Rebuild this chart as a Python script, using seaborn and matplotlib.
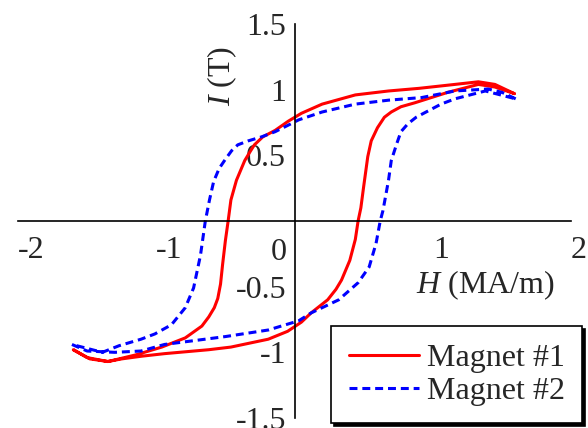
import matplotlib
matplotlib.use("Agg")
import matplotlib.pyplot as plt
import seaborn as sns
import pandas as pd

# Magnet #1: descending branch then ascending branch (H in MA/m, I in T)
h1_down = [1.59, 1.45, 1.33, 1.16, 0.90, 0.68, 0.44, 0.20, 0.05, -0.045, -0.14, -0.23,
           -0.29, -0.32, -0.36, -0.42, -0.46, -0.48, -0.50, -0.52, -0.535, -0.555, -0.58,
           -0.62, -0.67, -0.79, -0.96, -1.15, -1.35, -1.50, -1.60]
i1_down = [0.97, 1.04, 1.06, 1.04, 1.01, 0.99, 0.96, 0.89, 0.82, 0.76, 0.69, 0.64,
           0.58, 0.53, 0.46, 0.31, 0.16, 0.0, -0.15, -0.33, -0.48, -0.59, -0.66,
           -0.73, -0.80, -0.89, -0.96, -1.02, -1.07, -1.04, -0.98]
h1_up = [-1.48, -1.35, -1.25, -1.11, -0.94, -0.62, -0.46, -0.19, -0.05, 0.05, 0.12, 0.24,
         0.30, 0.34, 0.40, 0.44, 0.46, 0.48, 0.50, 0.53, 0.555, 0.60, 0.65, 0.70, 0.77,
         0.87, 1.11, 1.33, 1.45, 1.59]
i1_up = [-1.05, -1.07, -1.05, -1.03, -1.01, -0.98, -0.96, -0.90, -0.84, -0.77, -0.70, -0.60,
         -0.52, -0.45, -0.30, -0.14, 0.0, 0.10, 0.26, 0.49, 0.61, 0.71, 0.79, 0.83, 0.87,
         0.90, 0.98, 1.04, 1.02, 0.97]

# Magnet #2
h2_down = [1.60, 1.50, 1.40, 1.16, 0.92, 0.68, 0.44, 0.20, 0.03, -0.045, -0.14, -0.24,
           -0.335, -0.41, -0.455, -0.50, -0.545, -0.585, -0.615, -0.645, -0.68, -0.73,
           -0.79, -0.89, -1.01, -1.11, -1.27, -1.39, -1.50, -1.61]
i2_down = [0.93, 0.98, 1.005, 0.99, 0.94, 0.92, 0.89, 0.83, 0.77, 0.73, 0.68, 0.64,
           0.61, 0.58, 0.535, 0.47, 0.40, 0.30, 0.16, 0.0, -0.26, -0.51,
           -0.66, -0.79, -0.86, -0.90, -0.95, -1.00, -0.97, -0.94]
h2_up = [-1.50, -1.30, -1.11, -0.94, -0.50, -0.19, 0.03, 0.12, 0.32, 0.46, 0.54, 0.59,
         0.62, 0.64, 0.68, 0.70, 0.74, 0.77, 0.82, 0.88, 0.97, 1.06, 1.16, 1.38, 1.60]
i2_up = [-0.99, -1.00, -0.99, -0.94, -0.88, -0.83, -0.76, -0.70, -0.60, -0.47, -0.35, -0.17,
         0.0, 0.08, 0.31, 0.46, 0.59, 0.68, 0.74, 0.79, 0.84, 0.89, 0.93, 0.99, 0.93]

labels = ["Magnet #1", "Magnet #2"]
x_major = [-2, -1, 1, 2]
x_minor = [-1.5, -0.5, 0.5, 1.5]
y_major = [-1.5, -1, -0.5, 0.5, 1, 1.5]
y_minor = [-1.25, -0.75, -0.25, 0.25, 0.75, 1.25]
x_ticklabels = ["-2", "-1", "1", "2"]
y_ticklabels = ["-1.5", "-1", "-0.5", "0.5", "1", "1.5"]

loop1 = pd.DataFrame({"H": h1_down + h1_up, "I": i1_down + i1_up})
loop2 = pd.DataFrame({"H": h2_down + h2_up, "I": i2_down + i2_up})

sns.set_theme(style="white")
plt.rcParams["font.family"] = ["Liberation Serif", "DejaVu Serif"]
plt.rcParams["mathtext.fontset"] = "custom"
plt.rcParams["mathtext.rm"] = "Liberation Serif"
plt.rcParams["mathtext.it"] = "Liberation Serif:italic"

FS = 23
fig = plt.figure(figsize=(5.88, 4.28), dpi=100)
ax = fig.add_axes([18 / 588, 1 - 418 / 428, 553 / 588, 394 / 428])

sns.lineplot(data=loop1, x="H", y="I", sort=False, estimator=None, ax=ax,
             color="#ff0000", linewidth=2.2, label=labels[0])
sns.lineplot(data=loop2, x="H", y="I", sort=False, estimator=None, ax=ax,
             color="#0000ff", linewidth=2.2, linestyle=(0, (2.6, 1.6)), label=labels[1])

ax.set_xlim(-2, 2)
ax.set_ylim(-1.5, 1.5)
ax.set_xlabel("")
ax.set_ylabel("")

for side in ["top", "right"]:
    ax.spines[side].set_visible(False)
for side in ["left", "bottom"]:
    ax.spines[side].set_position(("data", 0))
    ax.spines[side].set_color("black")
    ax.spines[side].set_linewidth(1.2)

ax.set_xticks(x_major)
ax.set_xticklabels(x_ticklabels, fontsize=FS)
ax.set_xticks(x_minor, minor=True)
ax.set_yticks(y_major)
ax.set_yticklabels(y_ticklabels, fontsize=FS)
ax.set_yticks(y_minor, minor=True)
ax.tick_params(axis="both", which="both", direction="in", color="black", width=1.2)
ax.tick_params(axis="x", which="major", length=9, pad=11)
ax.tick_params(axis="x", which="minor", length=5)
ax.tick_params(axis="y", which="major", length=7, pad=6)
ax.tick_params(axis="y", which="minor", length=5)
for lbl in ax.get_xticklabels():
    lbl.set_horizontalalignment("left")

# shared origin label
ax.text(-0.058, -0.24, "0", fontsize=FS, ha="right", va="center")

fig.text(485 / 588, 1 - 285 / 428, "$H$ (MA/m)", fontsize=FS, ha="center", va="center")
fig.text(222 / 588, 1 - 76 / 428, "$I$ (T)", fontsize=FS, ha="center", va="center",
         rotation=90)

leg = ax.legend(loc="upper left", bbox_to_anchor=(331 / 588, 1 - 326 / 428),
                bbox_transform=fig.transFigure, fontsize=FS, frameon=True,
                fancybox=False, shadow={"color": "black", "alpha": 1.0},
                edgecolor="black", framealpha=1.0, borderpad=0.55,
                handlelength=2.2, handletextpad=0.25, labelspacing=0.11,
                borderaxespad=0.0)
leg.get_frame().set_linewidth(1.2)

fig.savefig("out.png", dpi=100)
